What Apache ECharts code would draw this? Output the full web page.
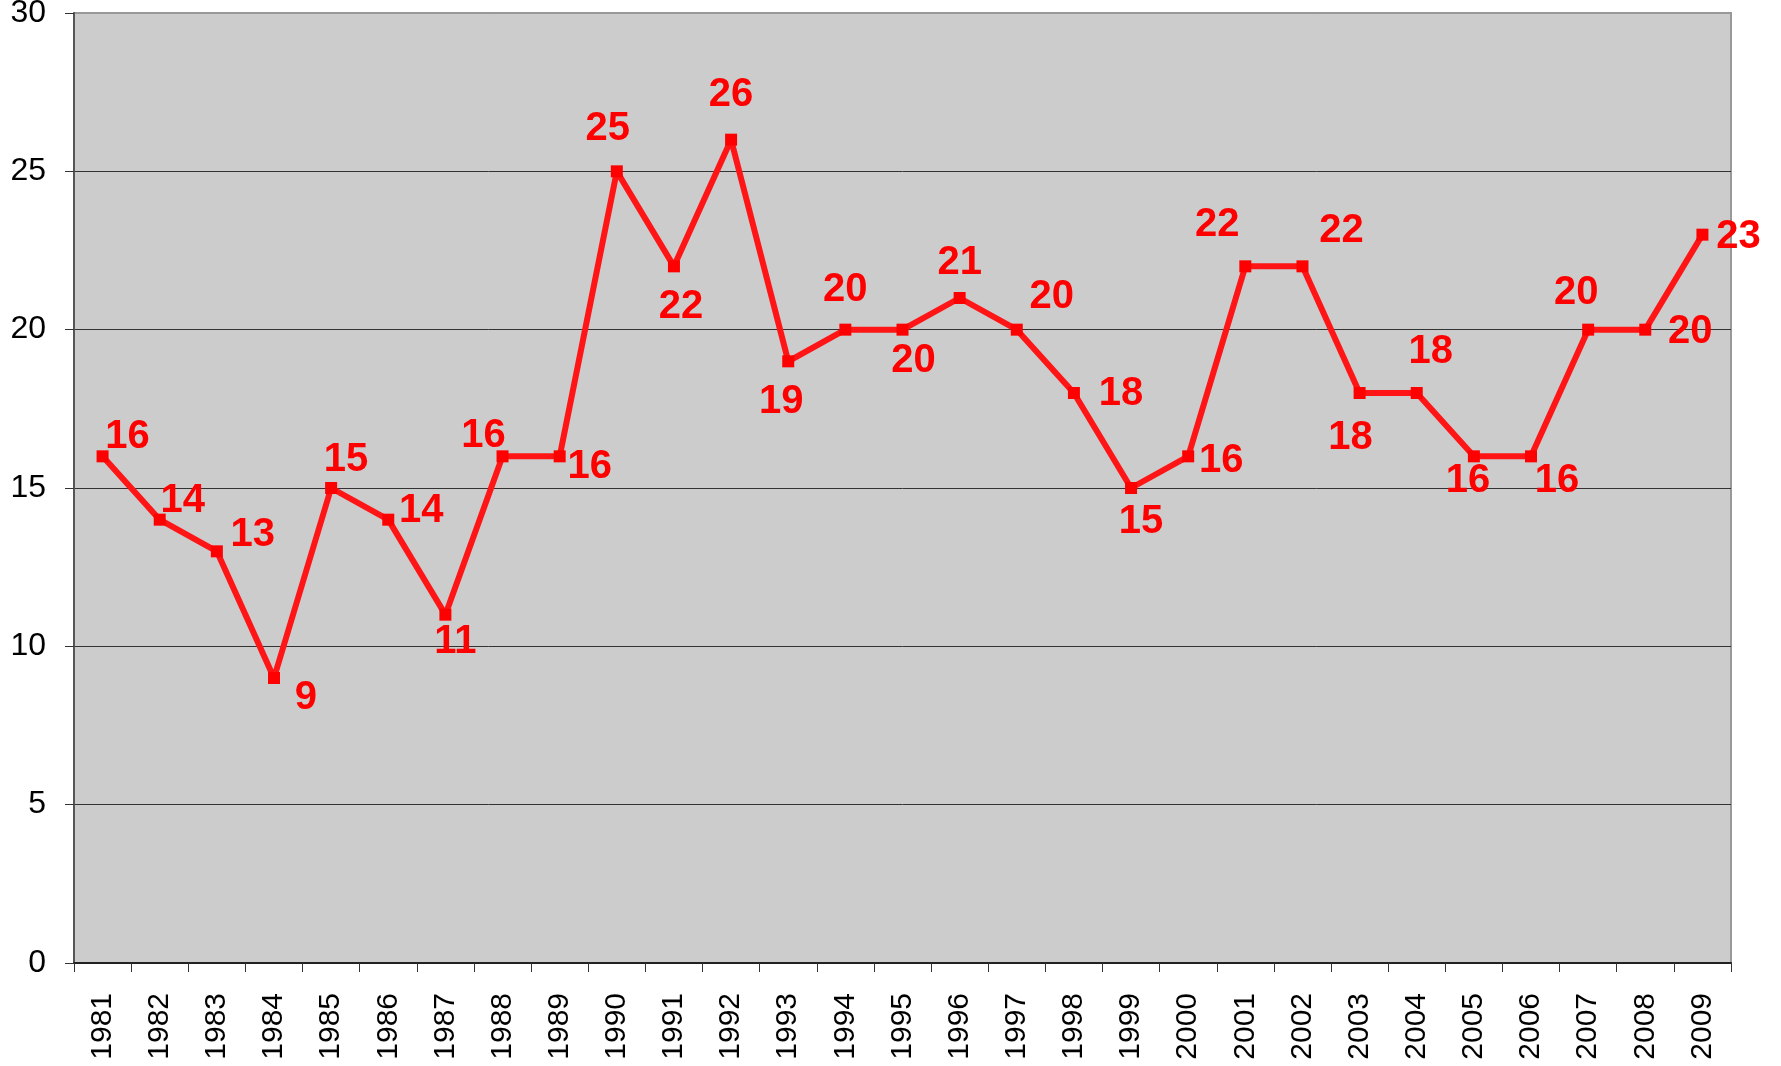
<!DOCTYPE html>
<html>
<head>
<meta charset="utf-8">
<title>chart</title>
<script src="https://cdn.jsdelivr.net/npm/echarts@6/dist/echarts.min.js"></script>
<style>
    html, body { margin: 0; padding: 0; background: #fff; }
    #chart { width: 1781px; height: 1066px; }
</style>
</head>
<body>
<div id="chart"></div>
<script>
'use strict'

var years = ['1981', '1982', '1983', '1984', '1985', '1986', '1987', '1988', '1989', '1990',
    '1991', '1992', '1993', '1994', '1995', '1996', '1997', '1998', '1999', '2000',
    '2001', '2002', '2003', '2004', '2005', '2006', '2007', '2008', '2009'];
var values = [16, 14, 13, 9, 15, 14, 11, 16, 16, 25,
    22, 26, 19, 20, 20, 21, 20, 18, 15, 16,
    22, 22, 18, 18, 16, 16, 20, 20, 23];
var yTicks = [0, 5, 10, 15, 20, 25, 30];

// where each value label sits, relative to its point
var labelOffsets = [[25, -19], [23, -19], [36, -16], [32, 20], [15, -28], [33, -9], [10, 27], [-19, -20], [30, 11], [-9, -42],
    [7, 41], [0, -45], [-7, 41], [0, -40], [11, 31], [0, -35], [35, -33], [47, 1], [10, 34], [33, 5],
    [-28, -41], [39, -35], [-9, 45], [14, -41], [-6, 25], [26, 25], [-12, -37], [45, 2], [36, 2]];

var seriesData = values.map(function (v, i) {
    return {
        value: v,
        label: {offset: labelOffsets[i]}
    };
});

var myChart = echarts.init(document.getElementById('chart'));
var option = {
    animation: false,
    backgroundColor: '#ffffff',
    textStyle: {fontFamily: '"Liberation Sans", Arial, sans-serif'},
    grid: {
        left: 74,
        right: 50,
        top: 13,
        bottom: 103,
        outerBoundsMode: 'none',
        show: true,
        backgroundColor: '#cccccc',
        borderColor: '#999999',
        borderWidth: 2
    },
    xAxis: {
        type: 'category',
        data: years,
        boundaryGap: true,
        axisLine: {lineStyle: {color: '#222', width: 2}},
        axisTick: {show: true, length: 9, lineStyle: {color: '#333', width: 1}},
        axisLabel: {
            rotate: 90,
            interval: 0,
            margin: 30,
            fontSize: 30,
            color: '#000'
        }
    },
    yAxis: {
        type: 'value',
        min: yTicks[0],
        max: yTicks[yTicks.length - 1],
        interval: 5,
        axisLine: {show: true, lineStyle: {color: '#555', width: 2}},
        axisTick: {show: true, length: 9, lineStyle: {color: '#333', width: 1}},
        axisLabel: {margin: 28, fontSize: 32, color: '#000'},
        splitLine: {
            show: true,
            lineStyle: {color: ['#333', '#333', '#333', '#333', '#333', '#333', '#999'], width: 1}
        }
    },
    series: [{
        type: 'line',
        data: seriesData,
        symbol: 'rect',
        symbolSize: 12,
        itemStyle: {color: '#ff0000'},
        lineStyle: {color: '#ff1515', width: 6},
        label: {
            show: true,
            position: 'inside',
            align: 'center',
            verticalAlign: 'middle',
            color: '#ff0000',
            fontWeight: 'bold',
            fontSize: 40,
            fontFamily: '"Liberation Sans", Arial, sans-serif'
        }
    }]
};
myChart.setOption(option);
</script>
</body>
</html>
